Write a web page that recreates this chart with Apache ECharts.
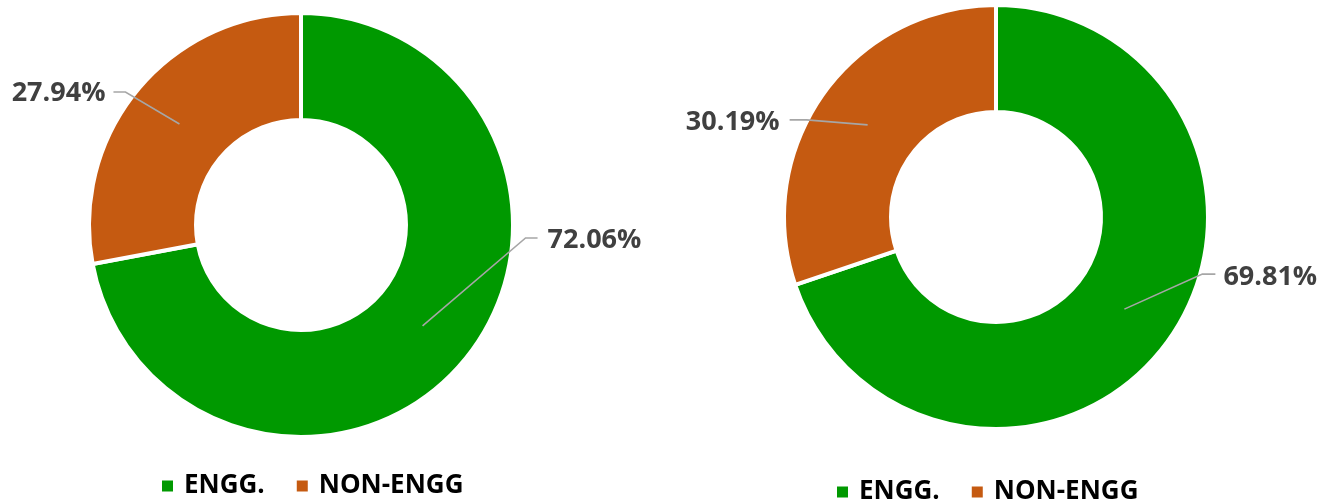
<!DOCTYPE html>
<html>
<head>
<meta charset="utf-8">
<script src="https://cdn.jsdelivr.net/npm/echarts@6/dist/echarts.min.js"></script>
<style>
html,body{margin:0;padding:0;background:#fff;}
#chart{width:1329px;height:504px;}
</style>
</head>
<body>
<div id="chart"></div>
<script>
// ---- data ----
const categories = ['ENGG.', 'NON-ENGG'];
const leftValues = [72.06, 27.94];
const rightValues = [69.81, 30.19];

// ---- styling / layout config ----
const COLORS = ['#009900', '#C55A11'];
const LABEL_COLOR = '#404040';
const LINE_COLOR = '#A6A6A6';
const FONT = '"Open Sans", "DejaVu Sans", sans-serif';
// label offsets relative to the leader start point (mid-ring at slice mid-angle)
const leftLabelCfg = [
  { tx: 125, ty: -86, ex: 103, ey: -88, lx: 115, align: 'left' },
  { tx: -74, ty: -31, ex: -54, ey: -32, lx: -66, align: 'right' }
];
const rightLabelCfg = [
  { tx: 99, ty: -32, ex: 78, ey: -35, lx: 91, align: 'left' },
  { tx: -88, ty: -3, ex: -61, ey: -5, lx: -78, align: 'right' }
];

function toData(vals) {
  return categories.map((c, i) => ({ name: c, value: vals[i] }));
}

function donut(center, vals) {
  return {
    type: 'pie',
    center: center,
    radius: [105, 212],
    startAngle: 90,
    clockwise: true,
    avoidLabelOverlap: false,
    silent: true,
    label: { show: false },
    labelLine: { show: false },
    itemStyle: { borderColor: '#ffffff', borderWidth: 4 },
    color: COLORS,
    data: toData(vals)
  };
}

function labelPie(center, vals, cfgs) {
  return {
    type: 'pie',
    center: center,
    radius: [0, 158],
    startAngle: 90,
    clockwise: true,
    avoidLabelOverlap: false,
    silent: true,
    z: 5,
    itemStyle: { color: 'rgba(0,0,0,0)', borderWidth: 0 },
    emphasis: { disabled: true },
    label: {
      show: true,
      position: 'outside',
      formatter: p => p.value.toFixed(2) + '%',
      color: LABEL_COLOR,
      fontFamily: FONT,
      fontWeight: 'bold',
      fontSize: 27
    },
    labelLine: {
      show: true,
      length: 20,
      length2: 10,
      lineStyle: { color: LINE_COLOR, width: 1.6 }
    },
    labelLayout: function (p) {
      const cfg = cfgs[p.dataIndex];
      const p0 = p.labelLinePoints && p.labelLinePoints[0];
      if (!p0) return {};
      return {
        x: p0[0] + cfg.tx,
        y: p0[1] + cfg.ty,
        align: cfg.align,
        verticalAlign: 'middle',
        labelLinePoints: [
          [p0[0], p0[1]],
          [p0[0] + cfg.ex, p0[1] + cfg.ey],
          [p0[0] + cfg.lx, p0[1] + cfg.ey]
        ]
      };
    },
    data: toData(vals)
  };
}

function legend(left, top) {
  return {
    left: left,
    top: top,
    orient: 'horizontal',
    itemWidth: 13,
    itemHeight: 13,
    itemGap: 30,
    icon: 'rect',
    selectedMode: false,
    data: categories.map((c, i) => ({ name: c, itemStyle: { color: COLORS[i] } })),
    textStyle: {
      color: '#000000',
      fontFamily: FONT,
      fontWeight: 'bold',
      fontSize: 26,
      padding: [0, 0, 0, 5]
    }
  };
}

const chart = echarts.init(document.getElementById('chart'), null, { renderer: 'canvas' });
chart.setOption({
  backgroundColor: '#ffffff',
  animation: false,
  legend: [legend(155, 468), legend(830, 474)],
  series: [
    donut([301, 225], leftValues),
    donut([996, 217], rightValues),
    labelPie([301, 225], leftValues, leftLabelCfg),
    labelPie([996, 217], rightValues, rightLabelCfg)
  ]
});
</script>
</body>
</html>
